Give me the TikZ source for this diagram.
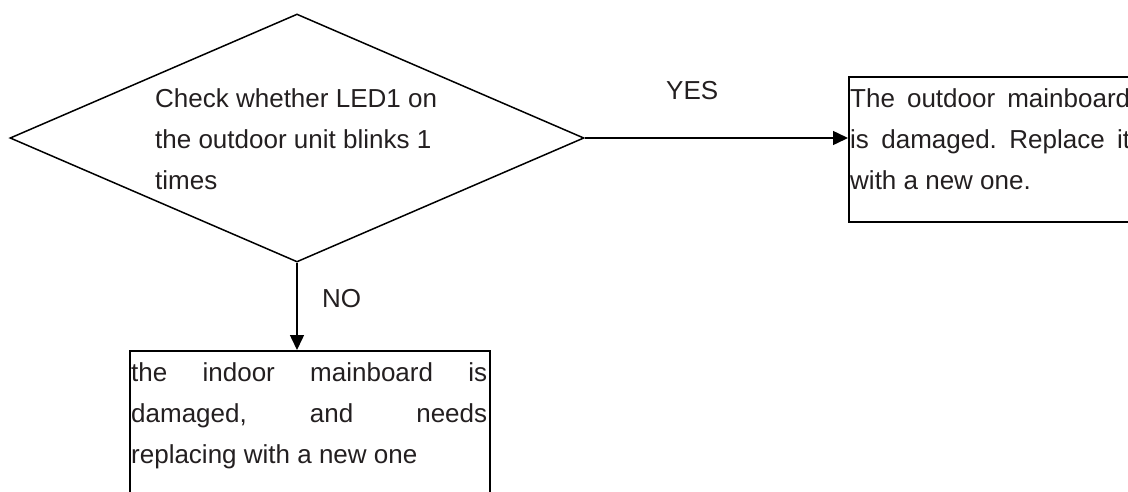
\documentclass[tikz,border=0pt]{standalone}
\usepackage{fontspec}
\setmainfont{Liberation Sans}
\usetikzlibrary{arrows.meta,shapes.geometric}
\definecolor{txt}{HTML}{231F20}
\begin{document}
\frenchspacing
\begin{tikzpicture}[x=1pt,y=-1pt,
  line/.style={draw=black, line width=1.5pt},
  arr/.style={line, -{Triangle[length=15pt,width=14pt]}},
  lbl/.style={font=\fontsize{26}{41}\selectfont\frenchspacing, text=txt, inner sep=0pt, anchor=base west, align=left},
  boxnode/.style={line, inner sep=0pt, anchor=north west}]
\useasboundingbox (0,0) rectangle (1128,491);
\clip (0,0) rectangle (1128,491);
\node[diamond, line, minimum width=574pt, minimum height=248pt, inner sep=0pt] (dec) at (297,138) {};
\node[lbl] (dtext) at (155,189) {Check whether LED1 on\\the outdoor unit blinks 1\\times};
\node[boxnode, minimum width=284pt, minimum height=145pt] (yesbox) at (848,76) {};
\node[lbl] (yestext) at (850,189) {\makebox[280pt][s]{The outdoor mainboard}\\\makebox[280pt][s]{is damaged. Replace it}\\with a new one.};
\node[boxnode, minimum width=360pt, minimum height=200pt] (nobox) at (129,350) {};
\node[lbl] (notext) at (131,463) {\makebox[356pt][s]{the indoor mainboard is}\\\makebox[356pt][s]{damaged, and needs}\\replacing with a new one};
\draw[arr] (dec.east) -- (dec.east -| yesbox.west);
\draw[arr] (dec.south) -- (dec.south |- nobox.north);
\node[lbl] (yes) at (666,99) {YES};
\node[lbl] (no) at (322,307) {NO};
\end{tikzpicture}
\end{document}
